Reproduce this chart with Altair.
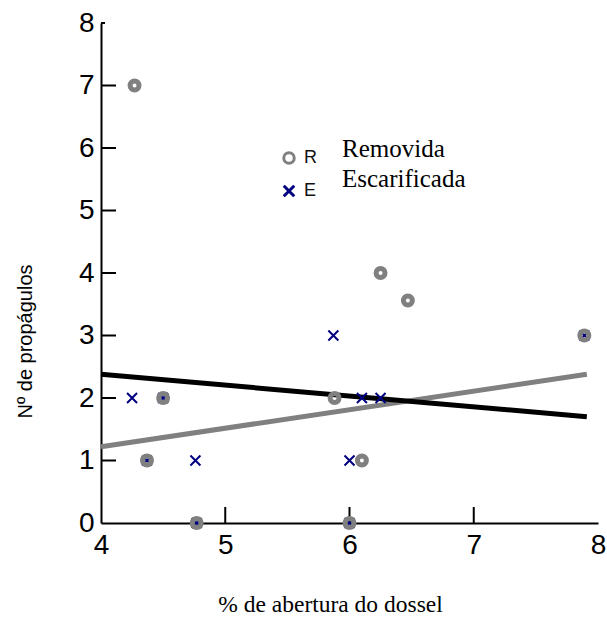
import altair as alt
import pandas as pd

# --- data ---
r_x = [4.27, 4.50, 4.37, 4.77, 5.88, 6.00, 6.10, 6.25, 6.47, 7.89]
r_y = [7, 2, 1, 0, 2, 0, 1, 4, 3.56, 3]
e_x = [4.25, 4.50, 4.37, 4.76, 4.77, 5.87, 6.00, 6.00, 6.10, 6.25, 7.89]
e_y = [2, 2, 1, 1, 0, 3, 1, 0, 2, 2, 3]

line_x = [4.0, 7.91]
line_r = [1.22, 2.38]
line_e = [2.38, 1.70]

x_ticks = [4, 5, 6, 7, 8]
y_ticks = [0, 1, 2, 3, 4, 5, 6, 7, 8]
legend_names = ["Removida", "Escarificada"]

pts = pd.DataFrame({
    "x": r_x + e_x,
    "y": r_y + e_y,
    "group": ["R"] * len(r_x) + ["E"] * len(e_x),
})
lines = pd.DataFrame({
    "x": line_x + line_x,
    "y": line_r + line_e,
    "series": ["R", "R", "E", "E"],
})

xs = alt.Scale(domain=[4, 8], nice=False, zero=False)
ys = alt.Scale(domain=[0, 8], nice=False, zero=True)

X_PATH = "M-1,-1L1,1M-1,1L1,-1"
color_scale = alt.Scale(domain=["R", "E"], range=["#808080", "#000080"])
shape_scale = alt.Scale(domain=["R", "E"], range=["circle", X_PATH])
line_color = alt.Scale(domain=["R", "E"], range=["#808080", "#000000"])

x_axis = alt.Axis(
    values=x_ticks, ticks=False, grid=False, domainColor="black", domainWidth=2,
    labelFont="Liberation Sans", labelFontSize=28, labelColor="black",
    labelPadding=8, labelFlush=False,
    title="% de abertura do dossel", titleFont="Liberation Serif",
    titleFontSize=23.5, titleFontWeight="normal", titleColor="black",
    titleX=229, titleY=88, titleBaseline="alphabetic", titleAlign="center",
)
y_axis = alt.Axis(
    values=y_ticks, ticks=False, grid=False, domainColor="black", domainWidth=2,
    labelFont="Liberation Sans", labelFontSize=28, labelColor="black",
    labelPadding=7, labelFlush=False,
    title="Nº de propágulos", titleFont="Liberation Sans", titleFontSize=20,
    titleFontWeight="normal", titleColor="black", titleAngle=-90,
    titleX=-70, titleY=318, titleBaseline="alphabetic", titleAlign="center",
)

legend = alt.Legend(
    orient="none", legendX=179, legendY=126, title=None, padding=0,
    symbolSize=110, symbolStrokeWidth=3, labelFont="Liberation Sans",
    labelFontSize=18, labelColor="#111111", labelOffset=6, rowPadding=9,
)

line_layer = alt.Chart(lines).mark_line(strokeWidth=5).encode(
    x=alt.X("x:Q", scale=xs, axis=x_axis),
    y=alt.Y("y:Q", scale=ys, axis=y_axis),
    color=alt.Color("series:N", scale=line_color, legend=None),
    detail="series:N",
)

e_layer = alt.Chart(pts).transform_filter(alt.datum.group == "E").mark_point(
    filled=False, strokeWidth=2, size=100, opacity=1
).encode(
    x=alt.X("x:Q", scale=xs, axis=x_axis),
    y=alt.Y("y:Q", scale=ys, axis=y_axis),
    stroke=alt.Stroke("group:N", scale=color_scale, legend=legend),
    shape=alt.Shape("group:N", scale=shape_scale, legend=legend),
)

r_layer = alt.Chart(pts).transform_filter(alt.datum.group == "R").mark_point(
    filled=False, strokeWidth=5, size=80, opacity=1
).encode(
    x=alt.X("x:Q", scale=xs, axis=x_axis),
    y=alt.Y("y:Q", scale=ys, axis=y_axis),
    stroke=alt.Stroke("group:N", scale=color_scale, legend=legend),
    shape=alt.Shape("group:N", scale=shape_scale, legend=legend),
)

ytick_layer = alt.Chart(pd.DataFrame({"v": y_ticks[1:8]})).mark_rule(
    color="black", strokeWidth=2
).encode(y=alt.Y("v:Q", scale=ys, axis=y_axis), x=alt.value(0), x2=alt.value(15))
ytop_layer = alt.Chart(pd.DataFrame({"v": y_ticks[8:]})).mark_rule(
    color="black", strokeWidth=2
).encode(y=alt.Y("v:Q", scale=ys, axis=y_axis), x=alt.value(0), x2=alt.value(4))
xtick_layer = alt.Chart(pd.DataFrame({"v": x_ticks[1:4]})).mark_rule(
    color="black", strokeWidth=2
).encode(x=alt.X("v:Q", scale=xs, axis=x_axis), y=alt.value(484), y2=alt.value(500))

txt1 = alt.Chart(pd.DataFrame({"t": legend_names[:1]})).mark_text(
    font="Liberation Serif", fontSize=25, align="left", baseline="alphabetic", color="black"
).encode(text="t:N", x=alt.value(241), y=alt.value(134))
txt2 = alt.Chart(pd.DataFrame({"t": legend_names[1:]})).mark_text(
    font="Liberation Serif", fontSize=25, align="left", baseline="alphabetic", color="black"
).encode(text="t:N", x=alt.value(241), y=alt.value(164))

chart = alt.layer(
    line_layer, ytick_layer, ytop_layer, xtick_layer, e_layer, r_layer, txt1, txt2
).properties(
    width=497, height=500,
    padding={"left": 101, "top": 23, "right": 9, "bottom": 96},
    autosize="none",
).configure_view(stroke=None).resolve_scale(color="independent")

chart.save("out.html", embed_options={"renderer": "svg", "actions": False})
